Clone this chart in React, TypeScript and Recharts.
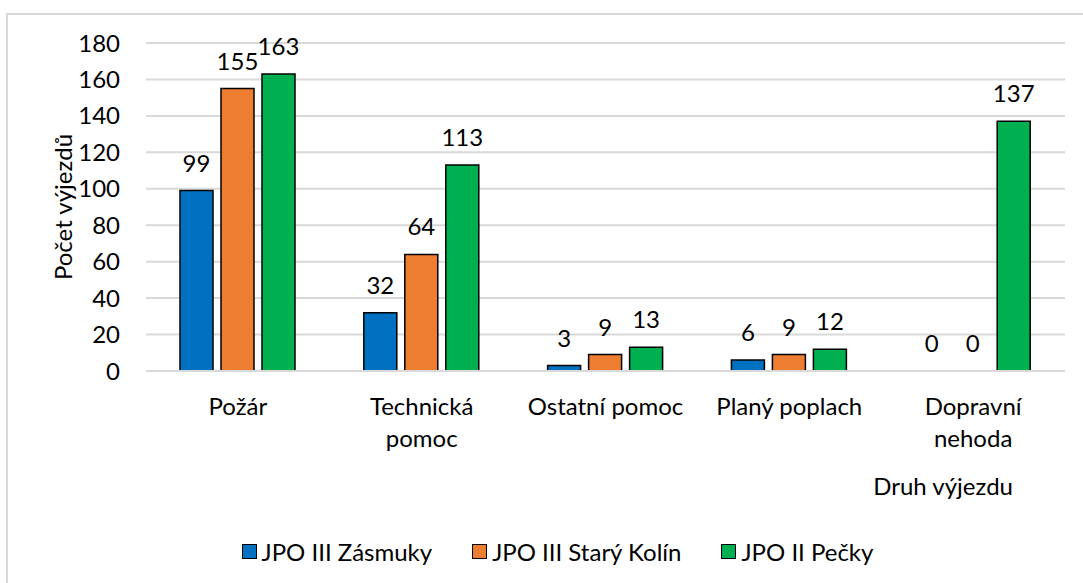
import React from 'react';
import { Bar, BarChart, CartesianGrid, LabelList, Legend, Rectangle, XAxis, YAxis } from 'recharts';

const categories = ['Požár', 'Technická pomoc', 'Ostatní pomoc', 'Planý poplach', 'Dopravní nehoda'];
const zasmuky = [99, 32, 3, 6, 0];
const staryKolin = [155, 64, 9, 9, 0];
const pecky = [163, 113, 13, 12, 137];
const yTicks = [0, 20, 40, 60, 80, 100, 120, 140, 160, 180];
const seriesOrder = ['zasmuky', 'staryKolin', 'pecky'];

// labels that Excel wrapped onto two lines
const wrapped = new Set(['Technická pomoc', 'Dopravní nehoda']);

const data = categories.map((name, i) => ({
  name,
  zasmuky: zasmuky[i],
  staryKolin: staryKolin[i],
  pecky: pecky[i],
}));

const FONT = 24;

const CategoryTick = ({ x, y, payload }: any) => {
  const lines: string[] = wrapped.has(payload.value) ? payload.value.split(' ') : [payload.value];
  return (
    <text x={x} y={y} textAnchor="middle" fontSize={FONT} fill="#000">
      {lines.map((l, i) => (
        <tspan key={i} x={x} dy={i === 0 ? 42 : 32}>
          {l}
        </tspan>
      ))}
    </text>
  );
};

// zero values keep a tiny invisible bar so their label is still drawn
const zeroSize = (value: any) => (value === 0 ? 0.01 : 0);
const BarShape = (props: any) => (props.height < 0.5 ? <g /> : <Rectangle {...props} />);

const ValueLabel = ({ x, y, width, value }: any) => (
  <text x={x + width / 2} y={y - 19} textAnchor="middle" fontSize={FONT} fill="#000">
    {value}
  </text>
);

const LegendContent = ({ payload }: any) => {
  const items = [...(payload || [])].sort(
    (a: any, b: any) => seriesOrder.indexOf(a.dataKey) - seriesOrder.indexOf(b.dataKey)
  );
  return (
    <div
      style={{
        display: 'flex',
        justifyContent: 'center',
        alignItems: 'center',
        height: 30,
        fontSize: FONT,
        paddingLeft: 50,
        color: '#000',
      }}
    >
      {items.map((p: any, i: number) => (
        <span key={i} style={{ display: 'flex', alignItems: 'center', marginRight: i < 2 ? 40 : 0 }}>
          <span
            style={{
              display: 'inline-block',
              width: 13,
              height: 13,
              background: p.color,
              border: '1.5px solid #000',
              marginRight: 5,
            }}
          />
          {p.value}
        </span>
      ))}
    </div>
  );
};

export default function App() {
  return (
    <div
      style={{
        position: 'absolute',
        left: 0,
        top: 0,
        width: 1083,
        height: 583,
        overflow: 'hidden',
        background: '#fff',
        fontFamily: 'Lato, sans-serif',
      }}
    >
      <div
        style={{
          position: 'absolute',
          left: 6,
          top: 13,
          width: 1200,
          height: 700,
          border: '2px solid #d9d9d9',
        }}
      />
      <div style={{ position: 'absolute', left: 0, top: 0 }}>
        <BarChart
          width={1083}
          height={583}
          data={data}
          margin={{ top: 43, right: 18, left: 0, bottom: 17 }}
          barCategoryGap={34}
          barGap={8}
        >
          <CartesianGrid vertical={false} stroke="#d9d9d9" strokeWidth={2} />
          <XAxis
            dataKey="name"
            height={165}
            tickLine={false}
            tickSize={0}
            axisLine={{ stroke: '#d9d9d9', strokeWidth: 2 }}
            tick={<CategoryTick />}
            interval={0}
            label={{
              content: ({ viewBox }: any) => (
                <text
                  x={viewBox.x + viewBox.width - 52}
                  y={viewBox.y + 124}
                  textAnchor="end"
                  fontSize={FONT}
                  fill="#000"
                >
                  Druh výjezdu
                </text>
              ),
            }}
          />
          <YAxis
            width={146}
            domain={[0, 180]}
            ticks={yTicks}
            tickLine={false}
            axisLine={false}
            tickSize={0}
            tickMargin={26}
            tick={{ fontSize: FONT, fill: '#000' }}
            label={{
              content: ({ viewBox }: any) => {
                const cx = viewBox.x + 62;
                const cy = viewBox.y + viewBox.height / 2;
                return (
                  <text
                    x={cx}
                    y={cy}
                    transform={`rotate(-90, ${cx}, ${cy})`}
                    textAnchor="middle"
                    dominantBaseline="central"
                    fontSize={FONT}
                    fill="#000"
                  >
                    Počet výjezdů
                  </text>
                );
              },
            }}
          />
          <Legend verticalAlign="bottom" content={<LegendContent />} wrapperStyle={{ height: 30 }} />
          <Bar dataKey="zasmuky" name="JPO III Zásmuky" fill="#0070C0" stroke="#000" strokeWidth={1.5}
            minPointSize={zeroSize} shape={<BarShape />} isAnimationActive={false}>
            <LabelList dataKey="zasmuky" content={<ValueLabel />} />
          </Bar>
          <Bar dataKey="staryKolin" name="JPO III Starý Kolín" fill="#ED7D31" stroke="#000" strokeWidth={1.5}
            minPointSize={zeroSize} shape={<BarShape />} isAnimationActive={false}>
            <LabelList dataKey="staryKolin" content={<ValueLabel />} />
          </Bar>
          <Bar dataKey="pecky" name="JPO II Pečky" fill="#00B050" stroke="#000" strokeWidth={1.5}
            minPointSize={zeroSize} shape={<BarShape />} isAnimationActive={false}>
            <LabelList dataKey="pecky" content={<ValueLabel />} />
          </Bar>
        </BarChart>
      </div>
    </div>
  );
}
